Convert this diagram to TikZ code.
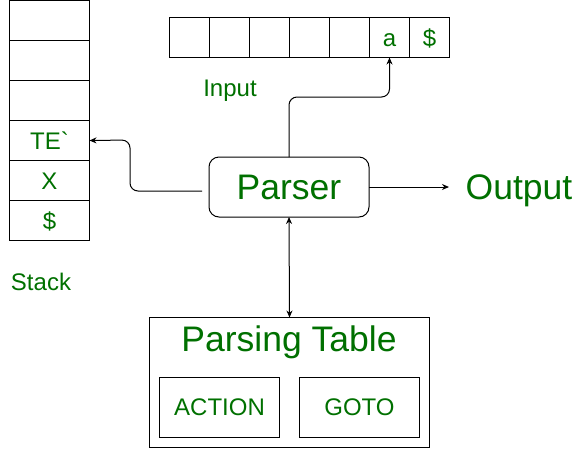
\documentclass[tikz,border=0pt]{standalone}
\usepackage{fontspec}
\newfontfamily\lsans{Liberation Sans}
\usetikzlibrary{arrows.meta}
\definecolor{tgreen}{RGB}{0,112,0}
\begin{document}
\begin{tikzpicture}[x=1pt,y=-1pt,
  every node/.style={inner sep=0pt,outer sep=0pt},
  cell/.style={draw,line width=1pt,minimum width=#1,minimum height=40pt,
    font=\lsans\fontsize{24}{26}\selectfont,text=tgreen,text height=17pt,text depth=0pt},
  big/.style={font=\lsans\fontsize{35.5}{40}\selectfont,text=tgreen},
  small/.style={font=\lsans\fontsize{24}{26}\selectfont,text=tgreen},
  conn/.style={line width=1pt,rounded corners=8pt},
  tip/.style={-{Stealth[length=7pt,width=6pt]}},
  dtip/.style={{Stealth[length=7pt,width=6pt]}-{Stealth[length=7pt,width=6pt]}}]
\useasboundingbox (0,0) rectangle (580,448);
% stack
\node[cell=80pt] (s1) at (49.5,20.5) {};
\node[cell=80pt] (s2) at (49.5,60.5) {};
\node[cell=80pt] (s3) at (49.5,100.5) {};
\node[cell=80pt] (s4) at (49.5,140.5) {TE`};
\node[cell=80pt] (s5) at (49.5,180.5) {X};
\node[cell=80pt] (s6) at (49.5,220.5) {\$};
\node[small,anchor=base] (stacklbl) at (41,290) {Stack};
% input
\node[cell=40pt] (i1) at (189.5,37.5) {};
\node[cell=40pt] (i2) at (229.5,37.5) {};
\node[cell=40pt] (i3) at (269.5,37.5) {};
\node[cell=40pt] (i4) at (309.5,37.5) {};
\node[cell=40pt] (i5) at (349.5,37.5) {};
\node[cell=40pt] (i6) at (389.5,37.5) {a};
\node[cell=40pt] (i7) at (429.5,37.5) {\$};
\node[small,anchor=base] (inputlbl) at (230,96) {Input};
% parser
\node[draw,line width=1pt,rounded corners=10pt,minimum width=160pt,minimum height=60pt,
  big,text height=25pt,text depth=0pt] (parser) at (289,187) {Parser};
\node[big,anchor=base] (output) at (519,199) {Output};
% parsing table
\node[draw,line width=1pt,minimum width=280pt,minimum height=130pt] (table) at (289.5,382.5) {};
\node[big,anchor=base] (tabletitle) at (289,351) {Parsing Table};
\node[cell=120pt,minimum height=60pt] (action) at (219.5,407) {ACTION};
\node[cell=120pt,minimum height=60pt] (goto) at (359.5,407) {GOTO};
% connectors
\coordinate (pl) at ([yshift=-4pt]parser.west);
\draw[conn,tip,shorten <=7pt] (pl) -| (130,140) -- (s4.east);
\draw[conn,tip] (parser.north) |- (389.5,97) -- (i6.south);
\draw[line width=1pt,tip] (parser.east) -- (449,187);
\draw[line width=1pt,dtip] (parser.south) -- (table.north);
\end{tikzpicture}
\end{document}
